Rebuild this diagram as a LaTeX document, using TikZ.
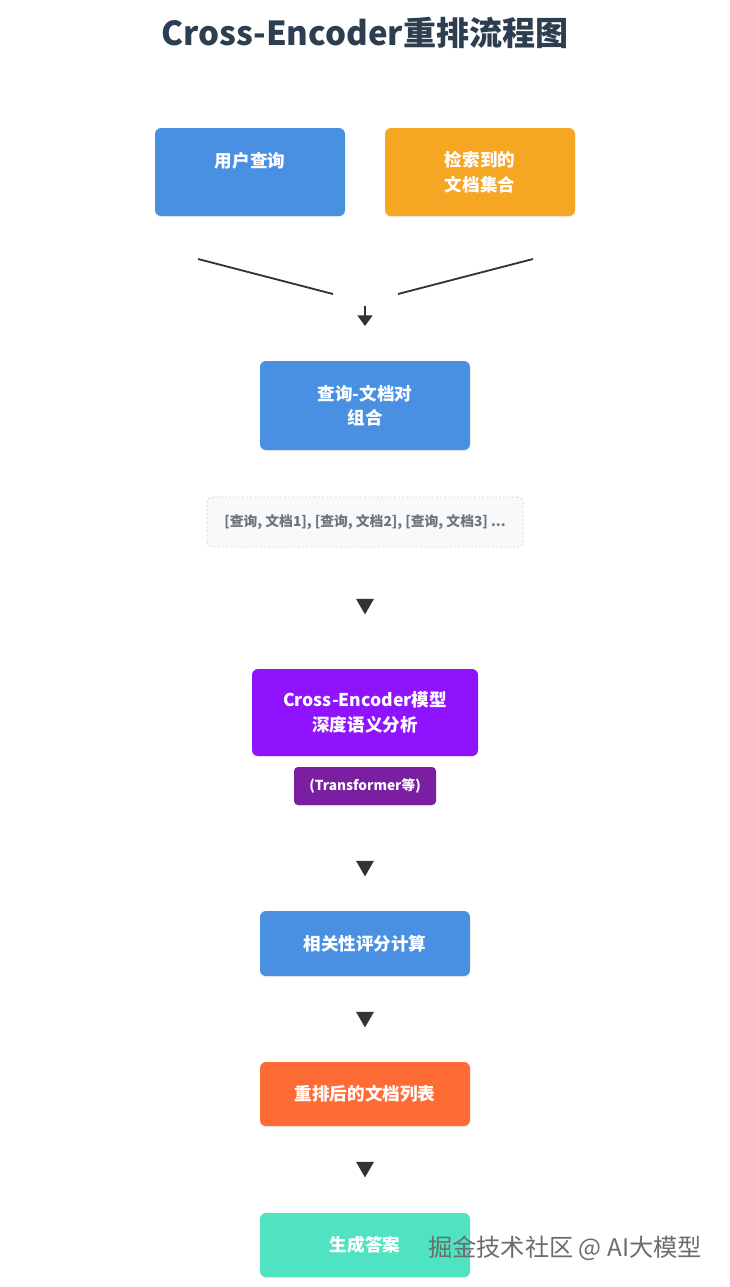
\documentclass[tikz,border=0pt]{standalone}
\usepackage{fontspec}
\setmainfont{Noto Sans CJK SC}
\usetikzlibrary{shapes.geometric,shadows,arrows.meta}

\definecolor{ceblue}{HTML}{4A90E2}
\definecolor{ceorange}{HTML}{F5A623}
\definecolor{cepurple}{HTML}{9013FE}
\definecolor{cedeep}{HTML}{7B1FA2}
\definecolor{cered}{HTML}{FF6B35}
\definecolor{ceteal}{HTML}{50E3C2}
\definecolor{cetitle}{HTML}{2C3E50}
\definecolor{celine}{HTML}{333333}
\definecolor{cepale}{HTML}{F8F9FA}
\definecolor{ceedge}{HTML}{CED4DA}
\definecolor{cegray}{HTML}{6C757D}

\begin{document}
\begin{tikzpicture}[x=0.5mm, y=-0.5mm,
    box/.style={rectangle, rounded corners=3mm, text=white, align=center,
        font=\fontsize{25}{35}\selectfont\bfseries, inner sep=0pt,
        drop shadow={opacity=0.12, shadow xshift=0pt, shadow yshift=-2pt}},
    tip/.style={regular polygon, regular polygon sides=3, shape border rotate=180,
        fill=celine, inner sep=0pt, minimum size=10.4mm},
    link/.style={draw=celine, line width=2.6pt}]
    \useasboundingbox (0,0) rectangle (730,1287);

    \node[font=\fontsize{47}{54}\selectfont\bfseries, text=cetitle] (title) at (365,33) {Cross-Encoder重排流程图};

    \node[box, fill=ceblue, minimum width=95mm, minimum height=44mm] (query) at (250,172) {用户查询\\ ~};
    \node[box, fill=ceorange, minimum width=95mm, minimum height=44mm] (docs) at (480,172) {检索到的\\文档集合};

    \coordinate (ql) at (198,259);
    \coordinate (qr) at (333,294);
    \coordinate (dl) at (533,259);
    \coordinate (dr) at (398,294);
    \coordinate (at) at (365,306);
    \coordinate (ab) at (365,326);
    \draw[link] (ql) -- (qr);
    \draw[link] (dl) -- (dr);
    \draw[link, -{Triangle[width=21pt, length=15pt]}] (at) -- (ab);

    \node[box, fill=ceblue, minimum width=105mm, minimum height=44.5mm] (pairs) at (365,405.5) {查询-文档对\\组合};
    \node[rectangle, rounded corners=2.5mm, draw=ceedge, dashed, line width=1.2pt, fill=cepale,
        minimum width=158mm, minimum height=25mm, text=cegray,
        font=\fontsize{19.6}{22}\selectfont\bfseries] (list) at (365,522) {[查询, 文档1], [查询, 文档2], [查询, 文档3] ...};

    \node[tip] (t1) at (365,604) {};

    \node[box, fill=cepurple, minimum width=113mm, minimum height=43.5mm] (model) at (365,712.5) {Cross-Encoder模型\\深度语义分析};
    \node[box, fill=cedeep, rounded corners=2mm, minimum width=71mm, minimum height=19mm,
        font=\fontsize{19.5}{24}\selectfont\bfseries] (trans) at (365,786) {(Transformer等)};

    \node[tip] (t2) at (365,866) {};

    \node[box, fill=ceblue, minimum width=105mm, minimum height=32.5mm] (score) at (365,943.5) {相关性评分计算};

    \node[tip] (t3) at (365,1017) {};

    \node[box, fill=cered, minimum width=105mm, minimum height=32mm] (rank) at (365,1094) {重排后的文档列表};

    \node[tip] (t4) at (365,1167) {};

    \node[box, fill=ceteal, minimum width=105mm, minimum height=32mm] (answer) at (365,1245) {生成答案};

    \node[text=gray!85!black, font=\fontsize{34.5}{40}\selectfont] (mark) at (565,1248) {掘金技术社区 @ AI大模型};
\end{tikzpicture}
\end{document}
